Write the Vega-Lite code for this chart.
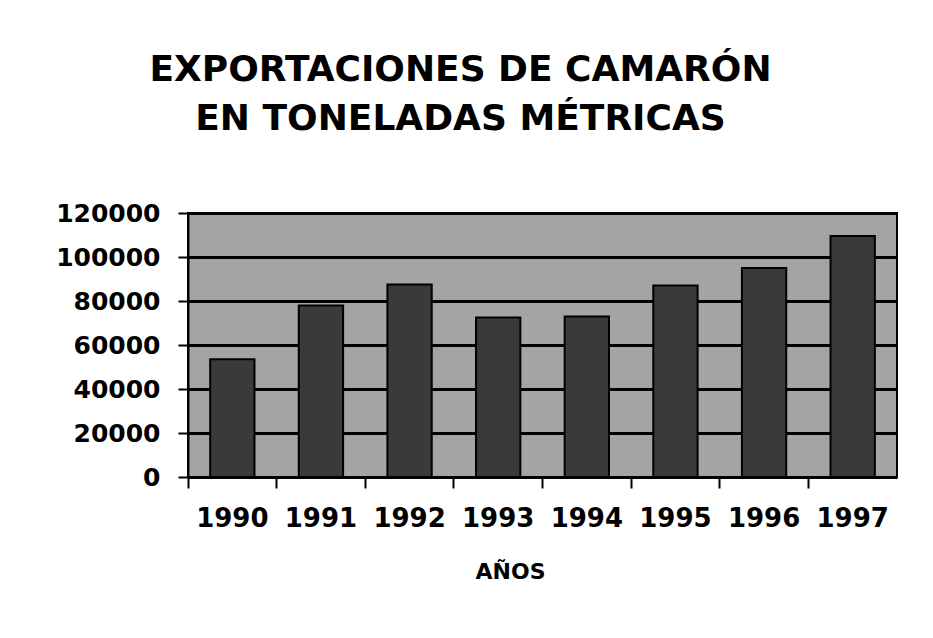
{
  "$schema": "https://vega.github.io/schema/vega-lite/v6.json",
  "autosize": "none",
  "width": 709,
  "height": 264,
  "padding": {"left": 188, "top": 213, "right": 36, "bottom": 161},
  "background": "white",
  "title": {
    "text": ["EXPORTACIONES DE CAMARÓN", "EN TONELADAS MÉTRICAS"],
    "font": "DejaVu Sans",
    "fontSize": 36,
    "fontWeight": "bold",
    "color": "black",
    "lineHeight": 49,
    "offset": 63,
    "dx": -82,
    "anchor": "middle"
  },
  "data": {
    "values": [
      {"anio": "1990", "toneladas": 53500},
      {"anio": "1991", "toneladas": 78000},
      {"anio": "1992", "toneladas": 87500},
      {"anio": "1993", "toneladas": 72500},
      {"anio": "1994", "toneladas": 73000},
      {"anio": "1995", "toneladas": 87000},
      {"anio": "1996", "toneladas": 95000},
      {"anio": "1997", "toneladas": 109500}
    ]
  },
  "mark": {"type": "bar", "width": {"band": 0.5}, "fill": "#3a3a3a", "stroke": "black", "strokeWidth": 2},
  "encoding": {
    "x": {
      "field": "anio",
      "type": "ordinal",
      "scale": {"paddingInner": 0, "paddingOuter": 0},
      "axis": {
        "title": "AÑOS",
        "titleX": 322,
        "labelAngle": 0,
        "bandPosition": 0,
        "domain": false,
        "ticks": true,
        "tickSize": 11,
        "tickWidth": 2,
        "tickColor": "black",
        "labelFont": "DejaVu Sans",
        "labelFontWeight": "bold",
        "labelFontSize": 26,
        "labelColor": "black",
        "labelPadding": 17,
        "titleFont": "DejaVu Sans",
        "titleFontWeight": "bold",
        "titleFontSize": 22,
        "titleColor": "black",
        "titlePadding": 30,
        "grid": false
      }
    },
    "y": {
      "field": "toneladas",
      "type": "quantitative",
      "scale": {"domain": [0, 120000], "nice": false},
      "axis": {
        "title": null,
        "values": [0, 20000, 40000, 60000, 80000, 100000, 120000],
        "format": "d",
        "grid": true,
        "gridColor": "black",
        "gridWidth": 3,
        "gridOpacity": 1,
        "domain": true,
        "domainColor": "black",
        "domainWidth": 2,
        "tickSize": 10,
        "tickWidth": 2,
        "tickColor": "black",
        "labelFont": "DejaVu Sans",
        "labelFontWeight": "bold",
        "labelFontSize": 25,
        "labelColor": "black",
        "labelPadding": 18
      }
    }
  },
  "config": {
    "view": {"fill": "#a4a4a4", "stroke": "black", "strokeWidth": 2}
  }
}
